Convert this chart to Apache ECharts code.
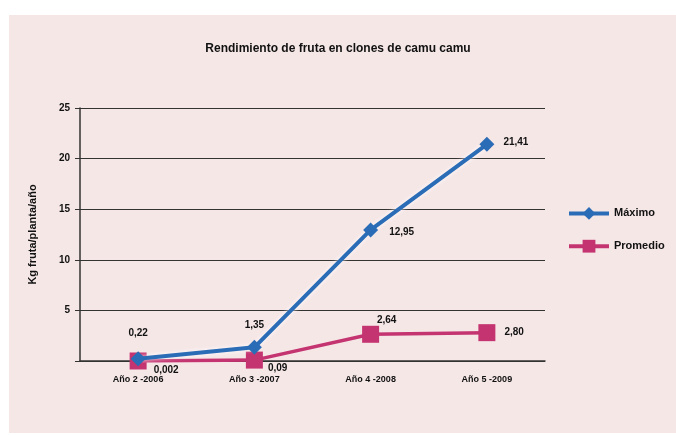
<!DOCTYPE html>
<html>
<head>
<meta charset="utf-8">
<script src="https://cdn.jsdelivr.net/npm/echarts@6/dist/echarts.min.js"></script>
<style>
  html, body { margin: 0; padding: 0; background: #fff; }
  #chart { width: 676px; height: 435px; }
</style>
</head>
<body>
<div id="chart"></div>
<script>
const categories = ['Año 2 -2006', 'Año 3 -2007', 'Año 4 -2008', 'Año 5 -2009'];
const maximo = [0.22, 1.35, 12.95, 21.41];
const promedio = [0.002, 0.09, 2.64, 2.80];
const maximoLabels = ['0,22', '1,35', '12,95', '21,41'];
const promedioLabels = ['0,002', '0,09', '2,64', '2,80'];
const yTicks = [0, 5, 10, 15, 20, 25];

const blue = '#2b6cb6';
const pink = '#c43470';
const font = 'Liberation Sans';

const maxLabelPos = [
  { position: 'top', offset: [0, -8] },
  { position: 'top', offset: [0, -5] },
  { position: 'right', offset: [6, 2] },
  { position: 'right', offset: [4, -2] }
];
const promLabelPos = [
  { position: 'right', offset: [2, 9] },
  { position: 'right', offset: [0, 8] },
  { position: 'top', offset: [16, 4] },
  { position: 'right', offset: [4, 0] }
];

const chart = echarts.init(document.getElementById('chart'));
chart.setOption({
  backgroundColor: '#fff',
  animation: false,
  graphic: [{
    type: 'rect', z: -10, silent: true,
    shape: { x: 9, y: 15, width: 667, height: 418 },
    style: { fill: '#f6e7e7' }
  }],
  title: {
    text: 'Rendimiento de fruta en clones de camu camu',
    left: 'center', top: 38,
    textStyle: { fontFamily: font, fontSize: 12, fontWeight: 'bold', color: '#111' }
  },
  legend: {
    orient: 'vertical', left: 562, top: 202, itemGap: 20,
    itemWidth: 40, itemHeight: 16,
    lineStyle: { width: 4 },
    textStyle: { fontFamily: font, fontSize: 11, fontWeight: 'bold', color: '#111' },
    data: ['Máximo', 'Promedio']
  },
  grid: { left: 80, right: 131, top: 108, bottom: 74 },
  xAxis: {
    type: 'category', data: categories,
    axisLine: { lineStyle: { color: '#333', width: 1.5 } },
    axisTick: { show: false },
    axisLabel: { fontFamily: font, fontSize: 9, fontWeight: 'bold', color: '#111', margin: 14 }
  },
  yAxis: {
    type: 'value', min: yTicks[0], max: yTicks[yTicks.length - 1], interval: 5,
    name: 'Kg fruta/planta/año', nameLocation: 'middle', nameGap: 42,
    nameTextStyle: { fontFamily: font, fontSize: 11, fontWeight: 'bold', color: '#111' },
    axisLine: { show: true, lineStyle: { color: '#333', width: 1.5 } },
    axisTick: { show: true, length: 5, lineStyle: { color: '#333' } },
    splitLine: { lineStyle: { color: '#333', width: 1 } },
    axisLabel: {
      fontFamily: font, fontSize: 10, fontWeight: 'bold', color: '#111', margin: 10,
      formatter: v => (v === 0 ? '' : String(v))
    }
  },
  series: [
    {
      name: 'Máximo', type: 'line', color: blue,
      symbol: 'diamond', symbolSize: 15, z: 3,
      lineStyle: { width: 4, color: blue, shadowColor: 'rgba(255,255,255,0.9)', shadowBlur: 4 },
      itemStyle: { color: blue },
      data: maximo.map((v, i) => ({
        value: v,
        label: {
          show: true, ...maxLabelPos[i], formatter: maximoLabels[i],
          fontFamily: font, fontSize: 10, fontWeight: 'bold', color: '#111'
        }
      }))
    },
    {
      name: 'Promedio', type: 'line', color: pink,
      symbol: 'rect', symbolSize: 17, z: 2,
      lineStyle: { width: 3.5, color: pink },
      itemStyle: { color: pink },
      data: promedio.map((v, i) => ({
        value: v,
        label: {
          show: true, ...promLabelPos[i], formatter: promedioLabels[i],
          fontFamily: font, fontSize: 10, fontWeight: 'bold', color: '#111'
        }
      }))
    }
  ]
});
</script>
</body>
</html>
